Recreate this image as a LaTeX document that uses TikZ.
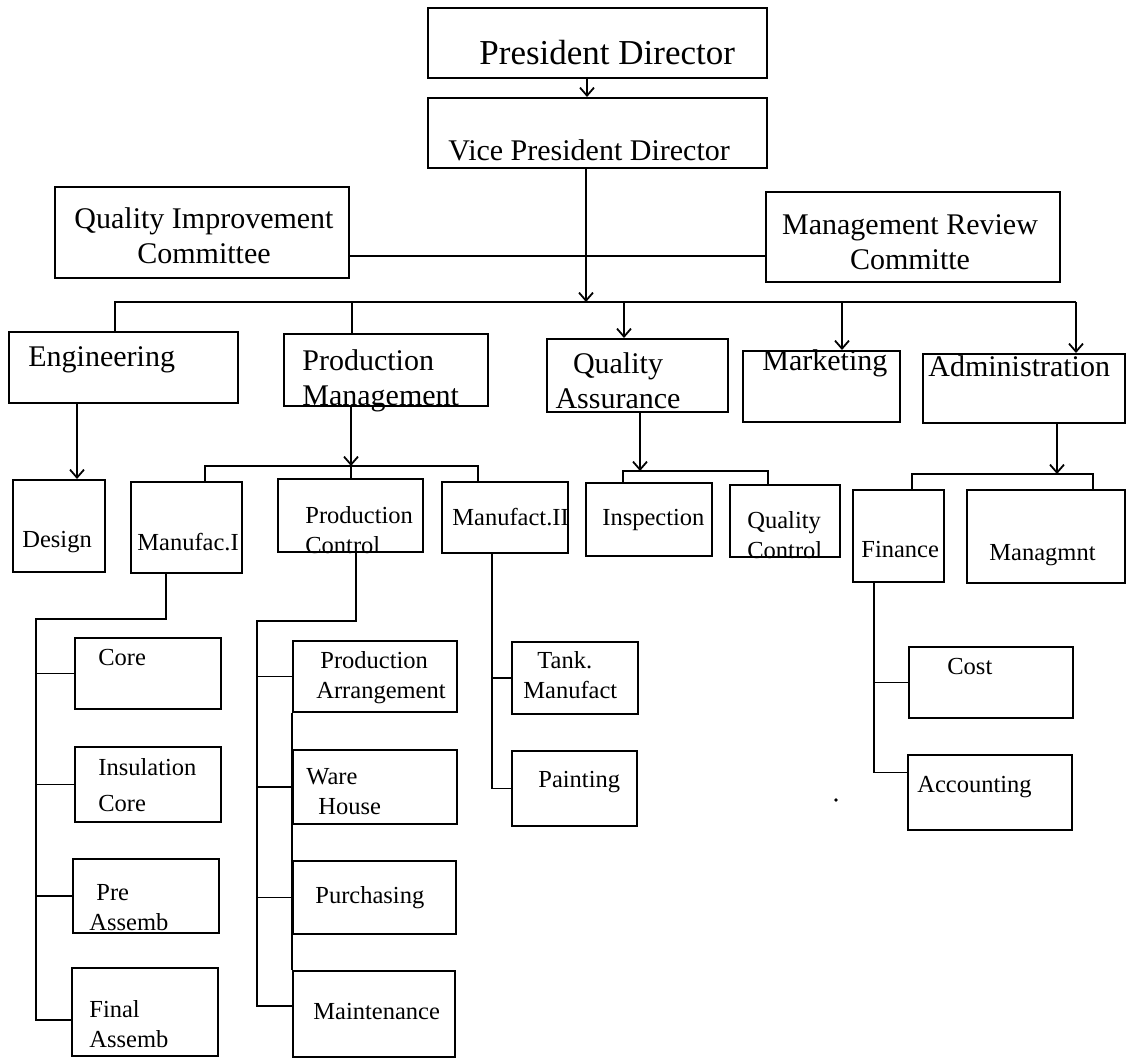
\documentclass[tikz,border=0pt]{standalone}
\usepackage{fontspec}
\setmainfont{Liberation Serif}
\usetikzlibrary{arrows.meta,fit}

\tikzset{
	caja/.style={draw,line width=1pt,inner sep=0pt},
	pres/.style={font=\fontsize{17.5}{20}\selectfont,inner sep=0pt,anchor=north west},
	grande/.style={font=\fontsize{15}{17.5}\selectfont,inner sep=0pt,anchor=north west,align=left},
	chica/.style={font=\fontsize{12.25}{15}\selectfont,inner sep=0pt,anchor=north west,align=left},
	linea/.style={line width=0.9pt},
	flecha/.style={linea,-{Straight Barb[length=4pt,width=7pt]}}
}

\begin{document}
\begin{tikzpicture}[x=0.5pt,y=-0.5pt]
		
		% Ventana
		\useasboundingbox (0,0) rectangle (1126,1059);
		
		% Direccion
		\node[caja,fit={(428,8) (767,78)}] (pd) {};
		\node[caja,fit={(428,98) (767,168)}] (vp) {};
		\node[caja,fit={(55,187) (349,278)}] (qic) {};
		\node[caja,fit={(766,192) (1060,282)}] (mrc) {};
		\node[pres] (tpd) at (479,40) {President Director};
		\node[grande] (tvp) at (448,139) {Vice President Director};
		\node[grande,anchor=north,align=center] (tqic) at (204,207) {Quality Improvement\\Committee};
		\node[grande,anchor=north,align=center] (tmrc) at (910,214) {Management Review\\Committe};
		
		% Departamentos
		\node[caja,fit={(9,332) (238,403)}] (eng) {};
		\node[caja,fit={(284,334) (488,406)}] (pm) {};
		\node[caja,fit={(547,339) (728,412)}] (qa) {};
		\node[caja,fit={(743,351) (900,422)}] (mkt) {};
		\node[caja,fit={(923,354) (1125,423)}] (adm) {};
		\node[grande] (teng) at (28,346) {Engineering};
		\node[grande] (tpm) at (302,349) {Production\\Management};
		\node[grande,anchor=north,align=center] (tqa) at (618,352) {Quality\\Assurance};
		\node[grande] (tmkt) at (762,349) {Marketing};
		\node[grande] (tadm) at (928,355) {Administration};
		
		% Secciones
		\node[caja,fit={(13,480) (105,572)}] (des) {};
		\node[caja,fit={(131,482) (242,573)}] (mf1) {};
		\node[caja,fit={(278,479) (423,552)}] (pc) {};
		\node[caja,fit={(442,482) (568,553)}] (mf2) {};
		\node[caja,fit={(586,483) (712,556)}] (ins) {};
		\node[caja,fit={(730,485) (840,557)}] (qc) {};
		\node[caja,fit={(853,490) (944,582)}] (fin) {};
		\node[caja,fit={(967,490) (1125,583)}] (mgt) {};
		\node[chica] (tdes) at (22,531) {Design};
		\node[chica] (tmf1) at (137,533) {Manufac.I};
		\node[chica] (tpc) at (305,506) {Production\\Control};
		\node[chica] (tmf2) at (452,508) {Manufact.II};
		\node[chica] (tins) at (602,509) {Inspection};
		\node[chica] (tqc) at (747,511) {Quality\\Control};
		\node[chica] (tfin) at (861,541) {Finance};
		\node[chica] (tmgt) at (989,544) {Managmnt};
		
		% Unidades
		\node[caja,fit={(75,638) (221,709)}] (core) {};
		\node[caja,fit={(75,747) (221,822)}] (insc) {};
		\node[caja,fit={(73,859) (219,933)}] (pre) {};
		\node[caja,fit={(72,968) (218,1056)}] (fa) {};
		\node[caja,fit={(293,641) (457,712)}] (pa) {};
		\node[caja,fit={(293,750) (457,824)}] (wh) {};
		\node[caja,fit={(293,861) (456,934)}] (pur) {};
		\node[caja,fit={(293,971) (455,1057)}] (mt) {};
		\node[caja,fit={(512,642) (638,714)}] (tank) {};
		\node[caja,fit={(512,751) (637,826)}] (pnt) {};
		\node[caja,fit={(909,647) (1073,718)}] (cost) {};
		\node[caja,fit={(908,755) (1072,830)}] (acc) {};
		\node[chica] (tcore) at (98,649) {Core};
		\node[chica] (tinsc) at (98,758) {Insulation\\[3pt]Core};
		\node[chica] (tpre) at (89,884) {\hspace*{3.5pt}Pre\\Assemb};
		\node[chica] (tfa) at (89,1000) {Final\\Assemb};
		\node[chica] (tpa) at (316,651) {\hspace*{2pt}Production\\Arrangement};
		\node[chica] (twh) at (306,768) {Ware\\\hspace*{6pt}House};
		\node[chica] (tpur) at (315,886) {Purchasing};
		\node[chica] (tmt) at (313,1003) {Maintenance};
		\node[chica] (ttank) at (523,651) {\hspace*{7pt}Tank.\\Manufact};
		\node[chica] (tpnt) at (538,771) {Painting};
		\node[chica] (tcost) at (947,658) {Cost};
		\node[chica] (tacc) at (917,776) {Accounting};
		
		% Puntos de paso
		\coordinate (a0) at (587,0);
		\coordinate (h0) at (0,256);
		\coordinate (b0) at (586,302);
		\coordinate (b1) at (115,302);
		\coordinate (b2) at (352,302);
		\coordinate (b3) at (624,302);
		\coordinate (b4) at (842,302);
		\coordinate (b5) at (1076,302);
		\coordinate (d0) at (77,0);
		\coordinate (s0) at (351,466);
		\coordinate (s1) at (205,466);
		\coordinate (s2) at (478,466);
		\coordinate (q0) at (640,471);
		\coordinate (q1) at (623,471);
		\coordinate (q2) at (768,471);
		\coordinate (r0) at (1057,474);
		\coordinate (r1) at (912,474);
		\coordinate (r2) at (1093,474);
		\coordinate (k1) at (166,619);
		\coordinate (k2) at (36,619);
		\coordinate (p1) at (356,621);
		\coordinate (p2) at (257,621);
		\coordinate (m1) at (492,0);
		\coordinate (f1) at (874,0);
		
		% Conectores superiores
		\draw[flecha] (pd.south -| a0) -- (vp.north -| a0);
		\draw[flecha] (vp.south -| b0) -- (b0);
		\draw[linea] (qic.east |- h0) -- (mrc.west |- h0);
		\draw[linea] (eng.north -| b1) -- (b1) -- (b5);
		\draw[linea] (b2) -- (pm.north -| b2);
		\foreach \p/\n in {b3/qa,b4/mkt,b5/adm}
		\draw[flecha] (\p) -- (\p |- \n.north);
		
		% Conectores de secciones
		\draw[flecha] (eng.south -| d0) -- (des.north -| d0);
		\draw[flecha] (pm.south -| s0) -- (s0);
		\draw[linea] (s0) -- (pc.north -| s0);
		\draw[linea] (mf1.north -| s1) -- (s1) -- (s2) -- (mf2.north -| s2);
		\draw[flecha] (qa.south -| q0) -- (q0);
		\draw[linea] (ins.north -| q1) -- (q1) -- (q2) -- (qc.north -| q2);
		\draw[flecha] (adm.south -| r0) -- (r0);
		\draw[linea] (fin.north -| r1) -- (r1) -- (r2) -- (mgt.north -| r2);
		
		% Columnas
		\draw[linea] (mf1.south -| k1) -- (k1) -- (k2) |- ([yshift=-4pt]fa.west);
		\foreach \n in {core,insc,pre}
		\draw[linea] (k2 |- \n.west) -- (\n.west);
		\draw[linea] (pc.south -| p1) -- (p1) -- (p2) |- ([yshift=4pt]mt.west);
		\foreach \n in {pa,wh,pur}
		\draw[linea] (p2 |- \n.west) -- (\n.west);
		\draw[line width=1pt] (pa.south west) -- (mt.north west);
		\draw[linea] (mf2.south -| m1) |- (pnt.west);
		\draw[linea] (m1 |- tank.west) -- (tank.west);
		\draw[linea] (fin.south -| f1) |- ([yshift=10pt]acc.west);
		\draw[linea] (f1 |- cost.west) -- (cost.west);
		
		% Marca suelta
		\fill (836,800) circle (0.9pt);
		
	\end{tikzpicture}
\end{document}
